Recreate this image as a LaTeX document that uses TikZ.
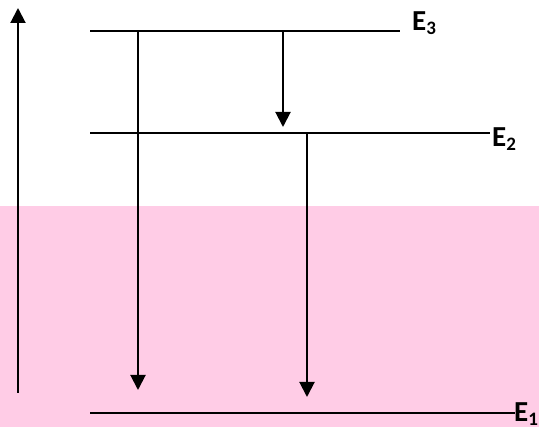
\documentclass[tikz,border=0pt]{standalone}
\usepackage{fontspec}
\setmainfont{Carlito}
\usetikzlibrary{arrows.meta}
\definecolor{pinkbg}{RGB}{255,204,230}
\newcommand{\lvlsub}[1]{\raisebox{-0.12em}{\fontsize{19}{20}\selectfont #1}}
\begin{document}
\begin{tikzpicture}[x=1pt,y=-1pt,
  level/.style={line width=1.8pt},
  trans/.style={line width=2pt,-{Triangle[width=15pt,length=15pt]}},
  lab/.style={font=\bfseries\fontsize{29}{30}\selectfont,inner sep=0pt}]
\useasboundingbox (0,0) rectangle (539,427);
\fill[pinkbg] (0,206) rectangle (539,427);
% levels
\coordinate (e3a) at (90,31); \coordinate (e3b) at (400,31);
\coordinate (e2a) at (90,133); \coordinate (e2b) at (490,133);
\coordinate (e1a) at (90,413); \coordinate (e1b) at (515,413);
\draw[level] (e3a) -- (e3b);
\draw[level] (e2a) -- (e2b);
\draw[level] (e1a) -- (e1b);
\node[lab,anchor=base west] (E3) at (412,31) {E\lvlsub{3}};
\node[lab,anchor=base west] (E2) at (492,147) {E\lvlsub{2}};
\node[lab,anchor=base west] (E1) at (514,422) {E\lvlsub{1}};
% arrows
\coordinate (ya) at (18,393); \coordinate (yb) at (18,8);
\draw[trans] (ya) -- (yb);
\coordinate (t1a) at (138,31); \coordinate (t1b) at (138,390);
\draw[trans] (t1a) -- (t1b);
\coordinate (t2a) at (283,31); \coordinate (t2b) at (283,127);
\draw[trans] (t2a) -- (t2b);
\coordinate (t3a) at (307,133); \coordinate (t3b) at (307,397);
\draw[trans] (t3a) -- (t3b);
\end{tikzpicture}
\end{document}
